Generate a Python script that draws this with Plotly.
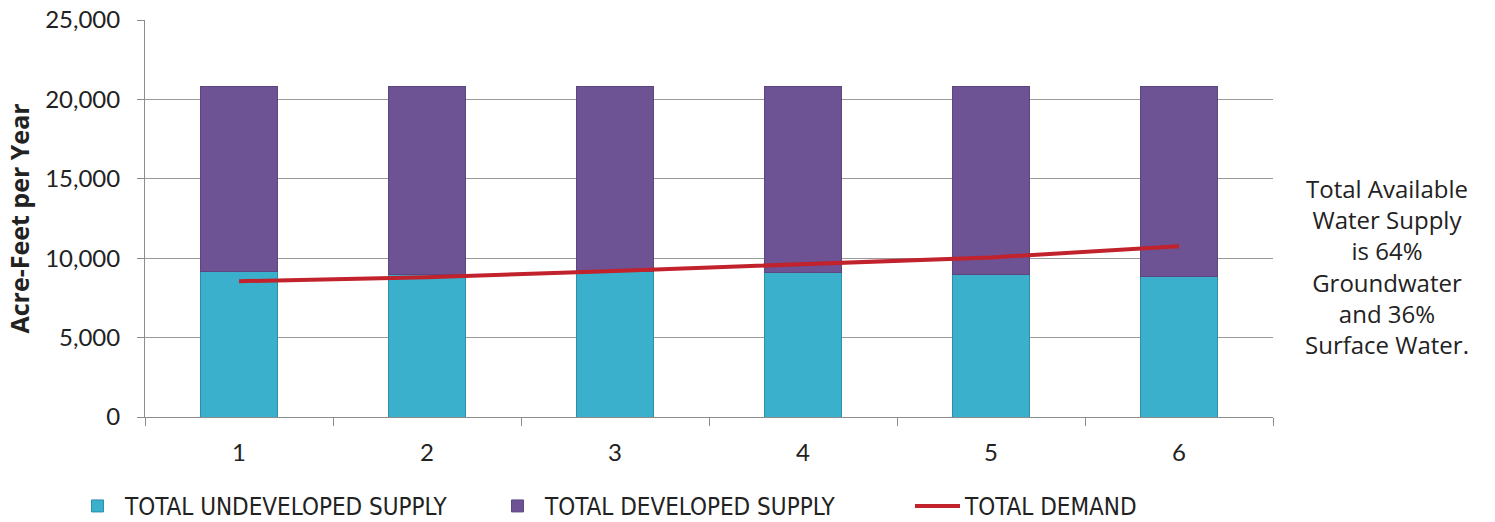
import plotly.graph_objects as go

categories = ["1", "2", "3", "4", "5", "6"]
undeveloped = [9150, 9000, 9150, 9100, 8950, 8850]
developed = [11650, 11800, 11650, 11700, 11850, 11950]
demand = [8550, 8800, 9200, 9600, 10050, 10750]
y_ticks = [0, 5000, 10000, 15000, 20000, 25000]

fig = go.Figure()
fig.add_trace(go.Bar(
    x=categories, y=undeveloped, name="TOTAL UNDEVELOPED SUPPLY",
    marker=dict(color="#3bb0cd", line=dict(color="#2e8fa8", width=1)),
    width=0.41,
))
fig.add_trace(go.Bar(
    x=categories, y=developed, name="TOTAL DEVELOPED SUPPLY",
    marker=dict(color="#6d5294", line=dict(color="#5d4680", width=1)),
    width=0.41,
))
fig.add_trace(go.Scatter(
    x=categories, y=demand, name="TOTAL DEMAND", mode="lines",
    line=dict(color="#c1222b", width=4),
))

fig.update_layout(
    width=1495, height=522,
    margin=dict(l=145, r=222, t=20, b=105, autoexpand=False),
    barmode="stack",
    paper_bgcolor="white", plot_bgcolor="white",
    font=dict(family="Lato, Open Sans, sans-serif", color="#222", size=20),
    legend=dict(
        orientation="h",
        x=-0.0665, xanchor="left", y=-0.225, yanchor="middle",
        font=dict(family="DejaVu Sans Condensed, Liberation Sans Narrow, sans-serif", size=24, color="#222"),
        entrywidth=360, entrywidthmode="pixels", itemwidth=45,
        traceorder="normal",
    ),
    xaxis=dict(
        type="category", showgrid=False, showline=True, linecolor="#8c8c8c", linewidth=1,
        ticks="outside", tickson="boundaries", ticklen=8, tickcolor="#8c8c8c",
        tickfont=dict(size=24, family="Lato, sans-serif"), ticklabelstandoff=14,
    ),
    yaxis=dict(
        range=[0, 25000], tickvals=y_ticks, tickformat=",", showgrid=True,
        gridcolor="#9a9a9a", gridwidth=1, showline=True, linecolor="#8c8c8c",
        ticks="outside", ticklen=7, tickcolor="#8c8c8c", zeroline=False,
        tickfont=dict(size=24, family="Lato, sans-serif"), ticklabelstandoff=12,
        title=dict(text="<b>Acre-Feet per Year</b>", font=dict(size=25, family="Open Sans, sans-serif"), standoff=8),
    ),
    annotations=[dict(
        text="Total Available<br>Water Supply<br>is 64%<br>Groundwater<br>and 36%<br>Surface Water.",
        xref="paper", yref="paper", x=1.1015, y=0.378, xanchor="center", yanchor="middle",
        showarrow=False, align="center",
        font=dict(size=24, family="Open Sans, sans-serif", color="#222"),
    )],
)

fig.write_html("out.html")
